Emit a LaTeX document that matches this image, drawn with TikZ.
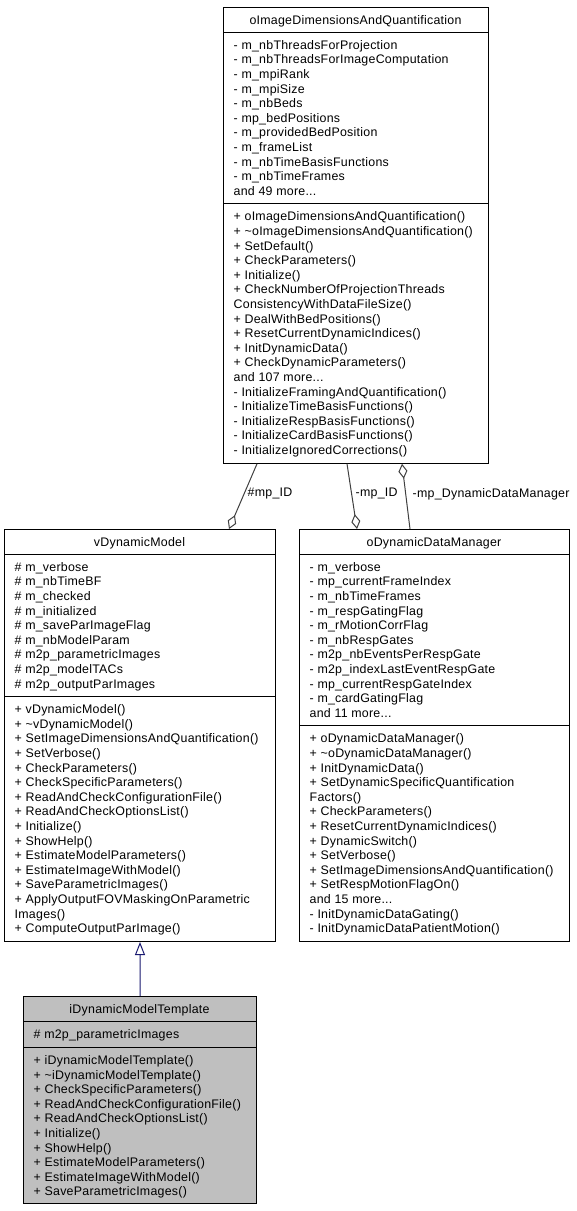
\documentclass[tikz,border=0pt]{standalone}
\usepackage{fontspec}
\newfontfamily\umlfont[LetterSpace=2]{Liberation Sans}
\usetikzlibrary{arrows.meta}
\definecolor{edgegray}{HTML}{404040}
\definecolor{inhblue}{HTML}{191970}
\definecolor{hlgray}{HTML}{BFBFBF}
\newcommand\us{\rule[-3bp]{0pt}{14.6bp}}
\newcommand\umlsize{\umlfont\fontsize{12.4bp}{14.6bp}\selectfont}
\tikzset{
  umlbox/.style={draw=black, line width=1bp, fill=white, inner sep=0pt, anchor=north west},
  hlbox/.style={umlbox, fill=hlgray},
  umltext/.style={inner sep=0pt, anchor=north west, align=left, font=\umlsize},
  umltitle/.style={inner sep=0pt, anchor=north, align=center, font=\umlsize},
  sepline/.style={draw=black, line width=1bp},
  edge/.style={draw=edgegray, line width=1bp},
  inh/.style={draw=inhblue, line width=1bp},
  lbl/.style={inner sep=0pt, anchor=west, font=\umlsize},
  agg/.style={-{Diamond[open, length=15bp, width=9bp]}},
}
\begin{document}
\begin{tikzpicture}[x=1bp, y=1bp]
\useasboundingbox (0,0) rectangle (577,-1211);
\fill[white] (0,0) rectangle (577,-1211);

% ---------- oImageDimensionsAndQuantification
\node[umlbox, minimum width=265bp, minimum height=455.8bp] (oidq) at (223,-7) {};
\draw[sepline] ([yshift=-25bp]oidq.north west) -- ([yshift=-25bp]oidq.north east);
\draw[sepline] ([yshift=-196.6bp]oidq.north west) -- ([yshift=-196.6bp]oidq.north east);
\node[umltitle] (oidqT) at (355.5,-12.2) {\us oImageDimensionsAndQuantification};
\node[umltext] (oidqA) at (233.5,-37.5) {\us - m\_nbThreadsForProjection\\
\us - m\_nbThreadsForImageComputation\\
\us - m\_mpiRank\\
\us - m\_mpiSize\\
\us - m\_nbBeds\\
\us - mp\_bedPositions\\
\us - m\_providedBedPosition\\
\us - m\_frameList\\
\us - m\_nbTimeBasisFunctions\\
\us - m\_nbTimeFrames\\
\us and 49 more...};
\node[umltext] (oidqM) at (233.5,-209.1) {\us + oImageDimensionsAndQuantification()\\
\us + \textasciitilde oImageDimensionsAndQuantification()\\
\us + SetDefault()\\
\us + CheckParameters()\\
\us + Initialize()\\
\us + CheckNumberOfProjectionThreads\\
\us ConsistencyWithDataFileSize()\\
\us + DealWithBedPositions()\\
\us + ResetCurrentDynamicIndices()\\
\us + InitDynamicData()\\
\us + CheckDynamicParameters()\\
\us and 107 more...\\
\us - InitializeFramingAndQuantification()\\
\us - InitializeTimeBasisFunctions()\\
\us - InitializeRespBasisFunctions()\\
\us - InitializeCardBasisFunctions()\\
\us - InitializeIgnoredCorrections()};

% ---------- vDynamicModel
\node[umlbox, minimum width=271bp, minimum height=412bp] (vdm) at (4,-529) {};
\draw[sepline] ([yshift=-25bp]vdm.north west) -- ([yshift=-25bp]vdm.north east);
\draw[sepline] ([yshift=-167.4bp]vdm.north west) -- ([yshift=-167.4bp]vdm.north east);
\node[umltitle] (vdmT) at (139.5,-534.2) {\us vDynamicModel};
\node[umltext] (vdmA) at (14.5,-559.5) {\us \# m\_verbose\\
\us \# m\_nbTimeBF\\
\us \# m\_checked\\
\us \# m\_initialized\\
\us \# m\_saveParImageFlag\\
\us \# m\_nbModelParam\\
\us \# m2p\_parametricImages\\
\us \# m2p\_modelTACs\\
\us \# m2p\_outputParImages};
\node[umltext] (vdmM) at (14.5,-701.9) {\us + vDynamicModel()\\
\us + \textasciitilde vDynamicModel()\\
\us + SetImageDimensionsAndQuantification()\\
\us + SetVerbose()\\
\us + CheckParameters()\\
\us + CheckSpecificParameters()\\
\us + ReadAndCheckConfigurationFile()\\
\us + ReadAndCheckOptionsList()\\
\us + Initialize()\\
\us + ShowHelp()\\
\us + EstimateModelParameters()\\
\us + EstimateImageWithModel()\\
\us + SaveParametricImages()\\
\us + ApplyOutputFOVMaskingOnParametric\\
\us Images()\\
\us + ComputeOutputParImage()};

% ---------- oDynamicDataManager
\node[umlbox, minimum width=270bp, minimum height=412bp] (oddm) at (299,-529) {};
\draw[sepline] ([yshift=-25bp]oddm.north west) -- ([yshift=-25bp]oddm.north east);
\draw[sepline] ([yshift=-196.6bp]oddm.north west) -- ([yshift=-196.6bp]oddm.north east);
\node[umltitle] (oddmT) at (434,-534.2) {\us oDynamicDataManager};
\node[umltext] (oddmA) at (309.5,-559.5) {\us - m\_verbose\\
\us - mp\_currentFrameIndex\\
\us - m\_nbTimeFrames\\
\us - m\_respGatingFlag\\
\us - m\_rMotionCorrFlag\\
\us - m\_nbRespGates\\
\us - m2p\_nbEventsPerRespGate\\
\us - m2p\_indexLastEventRespGate\\
\us - mp\_currentRespGateIndex\\
\us - m\_cardGatingFlag\\
\us and 11 more...};
\node[umltext] (oddmM) at (309.5,-731.1) {\us + oDynamicDataManager()\\
\us + \textasciitilde oDynamicDataManager()\\
\us + InitDynamicData()\\
\us + SetDynamicSpecificQuantification\\
\us Factors()\\
\us + CheckParameters()\\
\us + ResetCurrentDynamicIndices()\\
\us + DynamicSwitch()\\
\us + SetVerbose()\\
\us + SetImageDimensionsAndQuantification()\\
\us + SetRespMotionFlagOn()\\
\us and 15 more...\\
\us - InitDynamicDataGating()\\
\us - InitDynamicDataPatientMotion()};

% ---------- iDynamicModelTemplate
\node[hlbox, minimum width=233bp, minimum height=207.2bp] (idmt) at (23,-996) {};
\draw[sepline] ([yshift=-25bp]idmt.north west) -- ([yshift=-25bp]idmt.north east);
\draw[sepline] ([yshift=-51.1bp]idmt.north west) -- ([yshift=-51.1bp]idmt.north east);
\node[umltitle] (idmtT) at (139.5,-1001.2) {\us iDynamicModelTemplate};
\node[umltext] (idmtA) at (33.5,-1026.5) {\us \# m2p\_parametricImages};
\node[umltext] (idmtM) at (33.5,-1052.6) {\us + iDynamicModelTemplate()\\
\us + \textasciitilde iDynamicModelTemplate()\\
\us + CheckSpecificParameters()\\
\us + ReadAndCheckConfigurationFile()\\
\us + ReadAndCheckOptionsList()\\
\us + Initialize()\\
\us + ShowHelp()\\
\us + EstimateModelParameters()\\
\us + EstimateImageWithModel()\\
\us + SaveParametricImages()};

% ---------- connectors
\draw[edge, agg] ([xshift=34bp]oidq.south west) -- ([xshift=225bp]vdm.north west);
\draw[edge, agg] ([xshift=124bp]oidq.south west) -- ([xshift=58bp]oddm.north west);
\draw[edge, agg] ([xshift=111bp]oddm.north west) -- ([xshift=179bp]oidq.south west);
\node[lbl] (lab1) at (247.5,-494) {\#mp\_ID};
\node[lbl] (lab2) at (355.5,-494) {-mp\_ID};
\node[lbl] (lab3) at (412.5,-494) {-mp\_DynamicDataManager};
\draw[inh, -{Triangle[open, length=13bp, width=10bp]}] (idmt.north) -- (vdm.south);
\end{tikzpicture}
\end{document}
